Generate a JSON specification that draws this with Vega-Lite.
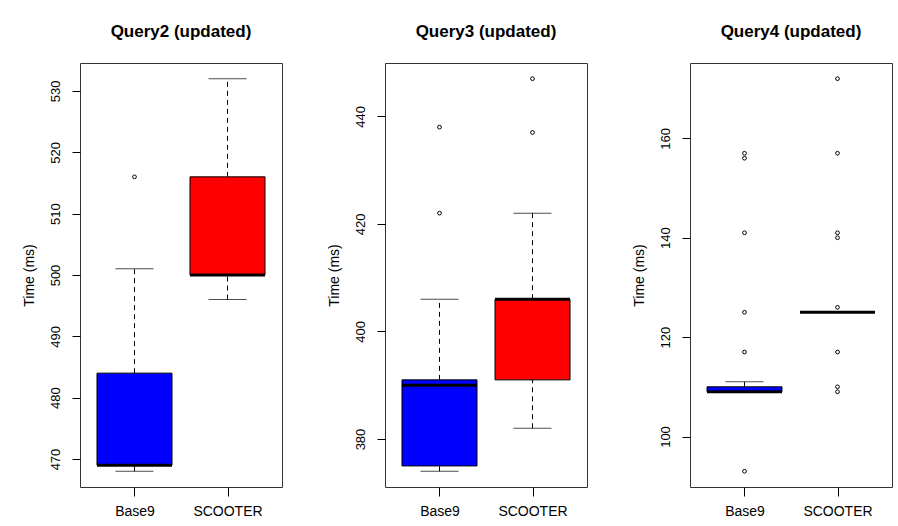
{
  "$schema": "https://vega.github.io/schema/vega-lite/v6.json",
  "background": "white",
  "padding": {"left": 21, "top": 22, "right": 0, "bottom": 0},
  "datasets": {
    "boxes": [
      {"query": "Query2", "group": "Base9", "lo": 468, "q1": 469, "median": 469, "q3": 484, "hi": 501},
      {"query": "Query2", "group": "SCOOTER", "lo": 496, "q1": 500, "median": 500, "q3": 516, "hi": 532},
      {"query": "Query3", "group": "Base9", "lo": 374, "q1": 375, "median": 390, "q3": 391, "hi": 406},
      {"query": "Query3", "group": "SCOOTER", "lo": 382, "q1": 391, "median": 406, "q3": 406, "hi": 422},
      {"query": "Query4", "group": "Base9", "lo": 109, "q1": 109, "median": 109, "q3": 110, "hi": 111},
      {"query": "Query4", "group": "SCOOTER", "lo": 125, "q1": 125, "median": 125, "q3": 125, "hi": 125}
    ],
    "outliers": [
      {"query": "Query2", "group": "Base9", "value": 516},
      {"query": "Query3", "group": "Base9", "value": 422},
      {"query": "Query3", "group": "Base9", "value": 438},
      {"query": "Query3", "group": "SCOOTER", "value": 437},
      {"query": "Query3", "group": "SCOOTER", "value": 447},
      {"query": "Query4", "group": "Base9", "value": 93},
      {"query": "Query4", "group": "Base9", "value": 117},
      {"query": "Query4", "group": "Base9", "value": 125},
      {"query": "Query4", "group": "Base9", "value": 141},
      {"query": "Query4", "group": "Base9", "value": 156},
      {"query": "Query4", "group": "Base9", "value": 157},
      {"query": "Query4", "group": "SCOOTER", "value": 109},
      {"query": "Query4", "group": "SCOOTER", "value": 110},
      {"query": "Query4", "group": "SCOOTER", "value": 117},
      {"query": "Query4", "group": "SCOOTER", "value": 126},
      {"query": "Query4", "group": "SCOOTER", "value": 140},
      {"query": "Query4", "group": "SCOOTER", "value": 141},
      {"query": "Query4", "group": "SCOOTER", "value": 157},
      {"query": "Query4", "group": "SCOOTER", "value": 172}
    ]
  },
  "config": {
    "font": "Liberation Sans",
    "view": {"stroke": "#333333", "strokeWidth": 1},
    "title": {"fontSize": 17, "fontWeight": "bold", "color": "black", "anchor": "middle", "baseline": "alphabetic", "offset": 22},
    "axis": {"grid": false, "domain": false, "tickColor": "black", "labelColor": "black", "titleColor": "black", "labelFontSize": 13, "titleFontSize": 14, "titleFontWeight": "normal", "tickSize": 8}
  },
  "spacing": 103,
  "bounds": "flush",
  "hconcat": [
    {
      "title": "Query2 (updated)",
      "width": 202, "height": 424,
      "encoding": {
        "x": {"field": "group", "type": "nominal", "title": null, "scale": {"type": "point", "padding": 0.586, "domain": ["Base9", "SCOOTER"]}, "axis": {"labelAngle": 0, "labelFontSize": 14, "labelPadding": 8, "tickSize": 9}}
      },
      "layer": [
        {"data": {"name": "boxes"}, "transform": [{"filter": "datum.query == 'Query2'"}], "mark": {"type": "rule", "color": "black", "strokeDash": [5, 4]}, "encoding": {"y": {"field": "lo", "type": "quantitative", "scale": {"domain": [465.44, 534.56], "nice": false, "zero": false}, "axis": {"title": "Time (ms)", "values": [470, 480, 490, 500, 510, 520, 530], "labelAngle": -90, "labelAlign": "center", "labelBaseline": "bottom", "labelPadding": 10, "titlePadding": 13}}, "y2": {"field": "q1"}}},
        {"data": {"name": "boxes"}, "transform": [{"filter": "datum.query == 'Query2'"}], "mark": {"type": "rule", "color": "black", "strokeDash": [5, 4]}, "encoding": {"y": {"field": "q3", "type": "quantitative"}, "y2": {"field": "hi"}}},
        {"data": {"name": "boxes"}, "transform": [{"filter": "datum.query == 'Query2'"}], "mark": {"type": "tick", "color": "black", "size": 38, "thickness": 1}, "encoding": {"y": {"field": "lo", "type": "quantitative"}}},
        {"data": {"name": "boxes"}, "transform": [{"filter": "datum.query == 'Query2'"}], "mark": {"type": "tick", "color": "black", "size": 38, "thickness": 1}, "encoding": {"y": {"field": "hi", "type": "quantitative"}}},
        {"data": {"name": "boxes"}, "transform": [{"filter": "datum.query == 'Query2'"}], "mark": {"type": "bar", "stroke": "black", "strokeWidth": 1, "size": 75, "opacity": 1}, "encoding": {"y": {"field": "q1", "type": "quantitative"}, "y2": {"field": "q3"}, "color": {"field": "group", "type": "nominal", "scale": {"domain": ["Base9", "SCOOTER"], "range": ["#0000FF", "#FF0000"]}, "legend": null}}},
        {"data": {"name": "boxes"}, "transform": [{"filter": "datum.query == 'Query2'"}], "mark": {"type": "tick", "color": "black", "size": 75, "thickness": 3, "opacity": 1}, "encoding": {"y": {"field": "median", "type": "quantitative"}}},
        {"data": {"name": "outliers"}, "transform": [{"filter": "datum.query == 'Query2'"}], "mark": {"type": "point", "shape": "circle", "filled": false, "size": 14, "stroke": "black", "strokeWidth": 1, "opacity": 1}, "encoding": {"y": {"field": "value", "type": "quantitative"}}}
      ]
    },
    {
      "title": "Query3 (updated)",
      "width": 202, "height": 424,
      "encoding": {
        "x": {"field": "group", "type": "nominal", "title": null, "scale": {"type": "point", "padding": 0.586, "domain": ["Base9", "SCOOTER"]}, "axis": {"labelAngle": 0, "labelFontSize": 14, "labelPadding": 8, "tickSize": 9}}
      },
      "layer": [
        {"data": {"name": "boxes"}, "transform": [{"filter": "datum.query == 'Query3'"}], "mark": {"type": "rule", "color": "black", "strokeDash": [5, 4]}, "encoding": {"y": {"field": "lo", "type": "quantitative", "scale": {"domain": [371.08, 449.92], "nice": false, "zero": false}, "axis": {"title": "Time (ms)", "values": [380, 400, 420, 440], "labelAngle": -90, "labelAlign": "center", "labelBaseline": "bottom", "labelPadding": 10, "titlePadding": 13}}, "y2": {"field": "q1"}}},
        {"data": {"name": "boxes"}, "transform": [{"filter": "datum.query == 'Query3'"}], "mark": {"type": "rule", "color": "black", "strokeDash": [5, 4]}, "encoding": {"y": {"field": "q3", "type": "quantitative"}, "y2": {"field": "hi"}}},
        {"data": {"name": "boxes"}, "transform": [{"filter": "datum.query == 'Query3'"}], "mark": {"type": "tick", "color": "black", "size": 38, "thickness": 1}, "encoding": {"y": {"field": "lo", "type": "quantitative"}}},
        {"data": {"name": "boxes"}, "transform": [{"filter": "datum.query == 'Query3'"}], "mark": {"type": "tick", "color": "black", "size": 38, "thickness": 1}, "encoding": {"y": {"field": "hi", "type": "quantitative"}}},
        {"data": {"name": "boxes"}, "transform": [{"filter": "datum.query == 'Query3'"}], "mark": {"type": "bar", "stroke": "black", "strokeWidth": 1, "size": 75, "opacity": 1}, "encoding": {"y": {"field": "q1", "type": "quantitative"}, "y2": {"field": "q3"}, "color": {"field": "group", "type": "nominal", "scale": {"domain": ["Base9", "SCOOTER"], "range": ["#0000FF", "#FF0000"]}, "legend": null}}},
        {"data": {"name": "boxes"}, "transform": [{"filter": "datum.query == 'Query3'"}], "mark": {"type": "tick", "color": "black", "size": 75, "thickness": 3, "opacity": 1}, "encoding": {"y": {"field": "median", "type": "quantitative"}}},
        {"data": {"name": "outliers"}, "transform": [{"filter": "datum.query == 'Query3'"}], "mark": {"type": "point", "shape": "circle", "filled": false, "size": 14, "stroke": "black", "strokeWidth": 1, "opacity": 1}, "encoding": {"y": {"field": "value", "type": "quantitative"}}}
      ]
    },
    {
      "title": "Query4 (updated)",
      "width": 202, "height": 424,
      "encoding": {
        "x": {"field": "group", "type": "nominal", "title": null, "scale": {"type": "point", "padding": 0.586, "domain": ["Base9", "SCOOTER"]}, "axis": {"labelAngle": 0, "labelFontSize": 14, "labelPadding": 8, "tickSize": 9}}
      },
      "layer": [
        {"data": {"name": "boxes"}, "transform": [{"filter": "datum.query == 'Query4'"}], "mark": {"type": "rule", "color": "black", "strokeDash": [5, 4]}, "encoding": {"y": {"field": "lo", "type": "quantitative", "scale": {"domain": [89.84, 175.16], "nice": false, "zero": false}, "axis": {"title": "Time (ms)", "values": [100, 120, 140, 160], "labelAngle": -90, "labelAlign": "center", "labelBaseline": "bottom", "labelPadding": 10, "titlePadding": 13}}, "y2": {"field": "q1"}}},
        {"data": {"name": "boxes"}, "transform": [{"filter": "datum.query == 'Query4'"}], "mark": {"type": "rule", "color": "black", "strokeDash": [5, 4]}, "encoding": {"y": {"field": "q3", "type": "quantitative"}, "y2": {"field": "hi"}}},
        {"data": {"name": "boxes"}, "transform": [{"filter": "datum.query == 'Query4'"}], "mark": {"type": "tick", "color": "black", "size": 38, "thickness": 1}, "encoding": {"y": {"field": "lo", "type": "quantitative"}}},
        {"data": {"name": "boxes"}, "transform": [{"filter": "datum.query == 'Query4'"}], "mark": {"type": "tick", "color": "black", "size": 38, "thickness": 1}, "encoding": {"y": {"field": "hi", "type": "quantitative"}}},
        {"data": {"name": "boxes"}, "transform": [{"filter": "datum.query == 'Query4'"}], "mark": {"type": "bar", "stroke": "black", "strokeWidth": 1, "size": 75, "opacity": 1}, "encoding": {"y": {"field": "q1", "type": "quantitative"}, "y2": {"field": "q3"}, "color": {"field": "group", "type": "nominal", "scale": {"domain": ["Base9", "SCOOTER"], "range": ["#0000FF", "#FF0000"]}, "legend": null}}},
        {"data": {"name": "boxes"}, "transform": [{"filter": "datum.query == 'Query4'"}], "mark": {"type": "tick", "color": "black", "size": 75, "thickness": 3, "opacity": 1}, "encoding": {"y": {"field": "median", "type": "quantitative"}}},
        {"data": {"name": "outliers"}, "transform": [{"filter": "datum.query == 'Query4'"}], "mark": {"type": "point", "shape": "circle", "filled": false, "size": 14, "stroke": "black", "strokeWidth": 1, "opacity": 1}, "encoding": {"y": {"field": "value", "type": "quantitative"}}}
      ]
    }
  ]
}
